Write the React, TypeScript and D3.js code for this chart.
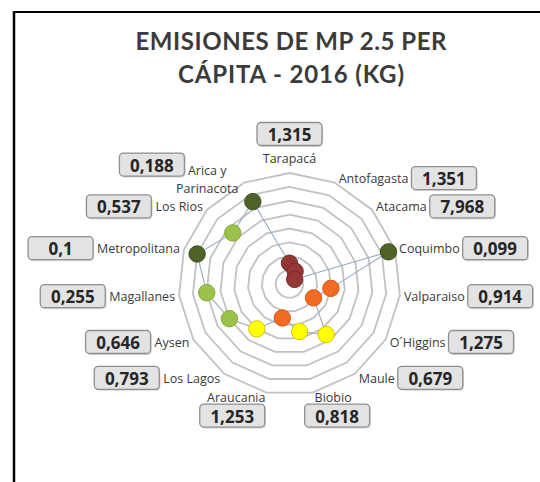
import React from 'react';
import * as d3 from 'd3';

// ---- data ----
const categories = [
  'Tarapacá', 'Antofagasta', 'Atacama', 'Coquimbo', 'Valparaiso', 'O´Higgins', 'Maule',
  'Biobio', 'Araucania', 'Los Lagos', 'Aysen', 'Magallanes', 'Metropolitana', 'Los Rios',
  'Arica y\nParinacota',
];
const emissions = [1.315, 1.351, 7.968, 0.099, 0.914, 1.275, 0.679, 0.818, 1.253, 0.793, 0.646, 0.255, 0.1, 0.537, 0.188];
// plotted radial value (rank, 1 = highest emissions, drawn at the centre)
const ranks = [3, 2, 1, 15, 6, 4, 9, 7, 5, 8, 10, 12, 14, 11, 13];
// colour group (quintile) of each region
const quintile = [0, 0, 0, 4, 1, 1, 2, 2, 1, 2, 3, 3, 4, 3, 4];
const palette = ['#953735', '#f26b22', '#ffff00', '#9bc34b', '#4f6228'];
const paletteStroke = ['#7a2a28', '#d9581a', '#d8c400', '#83a83c', '#3f4f20'];
const gridLevels = [2, 4, 6, 8, 10, 12, 14, 16];
const titleLines = ['EMISIONES DE MP 2.5 PER', 'CÁPITA - 2016 (KG)'];
const titleWidths = [311, 226];

const W = 540;
const H = 482;
const cx = 289.5;
const cy = 284;
const R = 111;
const LABEL_FONT = 12.5;
const BOX_W = 65;
const BOX_H = 23;
const FONT = '"Open Sans", "DejaVu Sans", sans-serif';

let ctx: CanvasRenderingContext2D | null = null;
function textWidth(s: string, size: number, weight = 'normal') {
  if (!ctx) ctx = document.createElement('canvas').getContext('2d');
  if (!ctx) return s.length * size * 0.55;
  ctx.font = `${weight} ${size}px "Open Sans"`;
  return ctx.measureText(s).width;
}

const fmt = (v: number) => String(v).replace('.', ',');

export default function App() {
  const n = categories.length;
  const angle = d3.scaleLinear().domain([0, n]).range([0, 2 * Math.PI]);
  const rScale = d3.scaleLinear().domain([0, 16]).range([0, R]);
  const idx = d3.range(n);

  const ringPath = (lv: number) =>
    d3.lineRadial<number>()
      .angle((i) => angle(i))
      .radius(() => rScale(lv))
      .curve(d3.curveLinearClosed)(idx) as string;

  const seriesPath = d3.lineRadial<number>()
    .angle((i) => angle(i))
    .radius((i) => rScale(ranks[i]))
    .curve(d3.curveLinearClosed)(idx) as string;

  const pts = idx.map((i) => {
    const a = angle(i);
    const r = rScale(ranks[i]);
    return { i, x: cx + r * Math.sin(a), y: cy - r * Math.cos(a) };
  });

  const labels = idx.map((i) => {
    const a = angle(i);
    const s = Math.sin(a);
    const c = Math.cos(a);
    const vx = cx + R * s;
    const vy = cy - R * c;
    const lines = categories[i].split('\n');
    const widths = lines.map((l) => textWidth(l, LABEL_FONT));
    const maxW = Math.max(...widths);
    let anchor: 'start' | 'middle' | 'end' = 'middle';
    let lx = vx;
    let ly = vy;
    let bx = 0;
    let by = 0;
    if (c > 0.99) {
      ly = vy - 15;
      bx = vx - BOX_W / 2;
      by = ly - 24 - BOX_H / 2;
    } else if (c < -0.95) {
      ly = vy + 4.5;
      if (s > 0) {
        anchor = 'start';
        lx = vx + 2;
        bx = lx + maxW / 2 - BOX_W / 2 + 4;
      } else {
        anchor = 'end';
        lx = vx - 1;
        bx = lx - maxW / 2 - BOX_W / 2 - 4;
      }
      by = ly + 7;
    } else if (lines.length > 1) {
      anchor = 'middle';
      lx = vx - 6 - maxW / 2;
      ly = vy - 5 * c - 8;
      bx = lx - widths[0] / 2 - 3.5 - BOX_W;
      by = ly - 5.5 - BOX_H / 2;
    } else if (s > 0) {
      anchor = 'start';
      lx = vx + 4;
      ly = vy - 5 * c;
      bx = lx + maxW + 3;
      by = ly - BOX_H / 2;
    } else {
      anchor = 'end';
      lx = vx - 4;
      ly = vy - 5 * c;
      bx = lx - maxW - 4 - BOX_W;
      by = ly - BOX_H / 2;
    }
    return { i, lines, anchor, lx, ly, bx, by };
  });

  return (
    <svg
      width={W}
      height={H}
      viewBox={`0 0 ${W} ${H}`}
      style={{ position: 'absolute', left: 0, top: 0, background: '#fff' }}
      fontFamily={FONT}
    >
      <rect x={0} y={0} width={W} height={H} fill="#fff" />
      {/* frame */}
      <line x1={14} y1={12} x2={W} y2={12} stroke="#000" strokeWidth={2.2} />
      <line x1={14} y1={11} x2={14} y2={H} stroke="#000" strokeWidth={2.5} />

      {/* title */}
      {titleLines.map((t, k) => (
        <text
          key={t}
          x={291}
          y={40 + k * 33}
          textAnchor="middle"
          dominantBaseline="central"
          fontFamily='Lato, "Open Sans", sans-serif'
          fontSize={24}
          fontWeight="bold"
          fill="#3b3b3b"
          textLength={titleWidths[k]}
          lengthAdjust="spacing"
        >
          {t}
        </text>
      ))}

      {/* grid rings */}
      <g transform={`translate(${cx},${cy})`}>
        {gridLevels.map((lv) => (
          <path key={lv} d={ringPath(lv)} fill="none" stroke="#c2c2c2" strokeWidth={1.8} />
        ))}
        <path d={seriesPath} fill="none" stroke="#9aabc2" strokeWidth={1.1} />
      </g>

      {/* markers */}
      {pts.map((p) => (
        <circle
          key={p.i}
          cx={p.x}
          cy={p.y}
          r={8.2}
          fill={palette[quintile[p.i]]}
          stroke={paletteStroke[quintile[p.i]]}
          strokeWidth={1}
        />
      ))}

      {/* category labels and value boxes */}
      {labels.map((L) => (
        <g key={L.i}>
          <text
            x={L.lx}
            y={L.ly}
            textAnchor={L.anchor}
            dominantBaseline="central"
            fontSize={LABEL_FONT}
            fill="#3a3a3a"
          >
            {L.lines.map((ln, k) => (
              <tspan key={k} x={L.lx} y={L.ly + k * 17.5}>
                {ln}
              </tspan>
            ))}
          </text>
          <rect x={L.bx + 1.2} y={L.by + 1.5} width={BOX_W} height={BOX_H} rx={4} fill="#000" opacity={0.15} />
          <rect x={L.bx} y={L.by} width={BOX_W} height={BOX_H} rx={4} fill="#e3e3e3" stroke="#8f8f8f" strokeWidth={1.3} />
          <text
            x={L.bx + BOX_W / 2}
            y={L.by + BOX_H / 2 + 0.5}
            textAnchor="middle"
            dominantBaseline="central"
            fontSize={17}
            fontWeight="bold"
            fill="#262626"
          >
            {fmt(emissions[L.i])}
          </text>
        </g>
      ))}
    </svg>
  );
}
